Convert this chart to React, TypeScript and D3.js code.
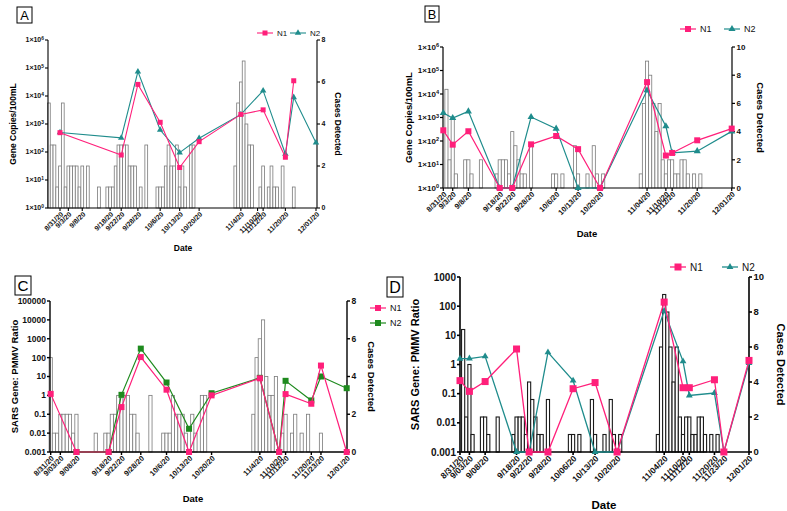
import React from 'react';
import * as d3 from 'd3';

const FONT = '"Liberation Sans", Arial, Helvetica, sans-serif';
const PINK = '#ff1f7a';
const TEAL = '#1f8c8c';
const GREEN = '#1e8a1e';

// ---- panel A : gene copies, site 1 ----
const A_DATES = ['2020-08-31', '2020-09-22', '2020-09-28', '2020-10-06', '2020-10-13', '2020-10-20', '2020-11-04', '2020-11-12', '2020-11-20', '2020-11-23', '2020-12-01'];
const A_N1 = [490, 78, 26000, 1150, 28, 234, 2200, 3200, 65, 35000, null];
const A_N2 = [500, 320, 74000, 610, 95, 310, 2200, 15500, 85, 9000, 215];
const A_CASES_START = '2020-08-27';
const A_CASES = [
  5, 3, 3, 1, 2, 5, 1, 2, 2, 2, 2, 1, 2, 0, 2,
  0, 0, 0, 1, 0, 0, 1, 1, 1, 2,
  3, 3, 3, 3, 2, 2, 2, 0, 1, 0,
  3, 0, 0, 0, 1, 1, 1, 2, 3, 2,
  2, 3, 1, 2, 1, 0, 3, 3, 0, 0,
  0, 0, 0, 0, 0, 0, 0, 0, 0, 0, 0, 0,
  2, 5, 6, 7, 4, 3, 3, 0, 0, 1, 2, 0, 1, 2, 1, 1, 0, 2, 0, 0, 0, 1,
  0, 0, 0, 0, 0, 0, 0,
];
const A_XLABELS = ['8/31/20', '9/3/20', '9/8/20', '9/18/20', '9/22/20', '9/28/20', '10/6/20', '10/13/20', '10/20/20', '11/4/20', '11/10/20', '11/12/20', '11/20/20', '12/01/20'];

// ---- panel B : gene copies, site 2 ----
const B_DATES = ['2020-08-31', '2020-09-03', '2020-09-08', '2020-09-18', '2020-09-22', '2020-09-28', '2020-10-06', '2020-10-13', '2020-10-20', '2020-11-04', '2020-11-10', '2020-11-12', '2020-11-20', '2020-12-01'];
const B_N1 = [285, 70, 260, 0, 0, 72, 163, 45, 0, 32000, 24, 31, 107, 337];
const B_N2 = [1550, 950, 1830, 0, 0, 1050, 335, 0, 0, 14400, 423, 31, 37, 257];
const B_XLABELS = ['8/31/20', '9/3/20', '9/8/20', '9/18/20', '9/22/20', '9/28/20', '10/6/20', '10/13/20', '10/20/20', '11/04/20', '11/10/20', '11/12/20', '11/20/20', '12/01/20'];

// cases at site 2 (panels B and D)
const SITE2_CASES_START = '2020-08-31';
const SITE2_CASES = [
  0, 7, 2, 5, 1, 0, 0, 2, 2, 1,
  0, 0, 2, 0, 0, 0, 0, 1, 2, 2,
  2, 1, 4, 3, 2, 1, 1, 0, 3, 0,
  0, 0, 0, 0, 0, 1, 1, 0, 1, 0,
  0, 0, 3, 1, 0, 0, 1, 0, 3, 1,
  0, 1, 0, 0, 0, 0, 0, 0, 0, 0, 0, 0, 0,
  1, 6, 9, 8, 6, 4, 6, 2, 1, 2, 2, 1, 1, 2, 2, 1, 0, 1, 0, 1,
  0, 0, 0, 0, 0, 0, 0, 0, 0,
];

// ---- panel C : PMMV ratio, site 1 ----
const C_DATES = ['2020-08-31', '2020-09-08', '2020-09-18', '2020-09-22', '2020-09-28', '2020-10-06', '2020-10-13', '2020-10-20', '2020-11-04', '2020-11-10', '2020-11-12', '2020-11-20', '2020-11-23', '2020-12-01'];
const C_N1 = [1.2, 0, 0, 0.24, 107, 2, 0, 1.0, 8, 0, 1.17, 0.36, 38, 0];
const C_N2 = [null, 0, 0, 1.07, 300, 4.8, 0.017, 1.3, 8.5, 0, 5.9, 0.54, 10, 2.4];
const C_CASES_START = '2020-08-31';
const C_CASES = [
  5, 1, 1, 2, 2, 2, 2, 1, 2, 0,
  0, 0, 0, 0, 1, 0, 0, 1, 1, 2,
  2, 3, 3, 3, 3, 2, 2, 1, 0, 0,
  0, 3, 0, 0, 0, 1, 1, 1, 3, 2,
  2, 2, 1, 0, 2, 1, 0, 3, 3,
  0, 0, 0, 0, 0, 0, 0, 0, 0, 0, 0, 0, 0, 0,
  2, 5, 6, 7, 4, 3, 3, 4, 0, 1, 2, 0, 1, 2, 0, 1, 0, 2, 0, 0, 0, 1,
  0, 0, 0, 0, 0, 0, 0,
];
const C_XLABELS = ['8/31/20', '9/03/20', '9/08/20', '9/18/20', '9/22/20', '9/28/20', '10/6/20', '10/13/20', '10/20/20', '11/4/20', '11/10/20', '11/12/20', '11/20/20', '11/23/20', '12/01/20'];

// ---- panel D : PMMV ratio, site 2 ----
const D_DATES = ['2020-08-31', '2020-09-03', '2020-09-08', '2020-09-18', '2020-09-22', '2020-09-28', '2020-10-06', '2020-10-13', '2020-10-20', '2020-11-04', '2020-11-10', '2020-11-12', '2020-11-20', '2020-11-23', '2020-12-01'];
const D_N1 = [0.28, 0.12, 0.26, 3.4, 0, 0, 0.148, 0.24, 0, 138, 0.16, 0.16, 0.3, 0, 1.38];
const D_N2 = [1.58, 1.6, 1.9, 0, 0, 2.6, 0.28, 0, 0, 69, 1.28, 0.087, 0.105, 0, 1.12];
const D_XLABELS = ['8/31/20', '9/03/20', '9/08/20', '9/18/20', '9/22/20', '9/28/20', '10/06/20', '10/13/20', '10/20/20', '11/04/20', '11/10/20', '11/12/20', '11/20/20', '11/23/20', '12/01/20'];

const COPIES_TICKS = [1, 10, 100, 1000, 10000, 100000, 1000000];
const RATIO_TICKS_C = [0.001, 0.01, 0.1, 1, 10, 100, 1000, 10000, 100000];
const RATIO_TICKS_D = [0.001, 0.01, 0.1, 1, 10, 100, 1000];
const CASE_TICKS_8 = [0, 2, 4, 6, 8];
const CASE_TICKS_10 = [0, 2, 4, 6, 8, 10];

const parse = d3.timeParse('%Y-%m-%d');
const parseLabel = (s: string) => {
  const [m, d, y] = s.split('/').map(Number);
  return new Date(2000 + y, m - 1, d);
};

type Cfg = {
  id: string;
  box: [number, number, number, number];
  axL: number; axR: number; top: number; bottom: number;
  xStart: number; xEnd: number;
  yTicks: number[]; sci: boolean;
  caseTicks: number[];
  dates: string[]; n1: (number | null)[]; n2: (number | null)[];
  n2Color: string; n2Shape: 'tri' | 'sq';
  casesStart: string; cases: number[];
  xLabels: string[];
  yTitle: string;
  fs: { ytick: number; xtick: number; rtick: number; title: number; legend: number; date: number };
  titleX: [number, number];
  dateXY: [number, number];
  legend: { x: number; y: number; dx: number; dy: number };
  barStroke: string; barW: number;
  lw: number; sq: number; tri: number; axW: number;
};

const PANELS: Cfg[] = [
  {
    id: 'A', box: [17, 7, 15, 16],
    axL: 48, axR: 317, top: 40, bottom: 208, xStart: 60, xEnd: 316,
    yTicks: COPIES_TICKS, sci: true, caseTicks: CASE_TICKS_8,
    dates: A_DATES, n1: A_N1, n2: A_N2, n2Color: TEAL, n2Shape: 'tri',
    casesStart: A_CASES_START, cases: A_CASES, xLabels: A_XLABELS,
    yTitle: 'Gene Copies/100mL',
    fs: { ytick: 7, xtick: 7, rtick: 7, title: 8.5, legend: 8, date: 8.5 },
    titleX: [13, 338], dateXY: [183, 251],
    legend: { x: 265, y: 33, dx: 33, dy: 0 },
    barStroke: '#7a7a7a', barW: 0.8, lw: 1.1, sq: 5, tri: 18, axW: 1.1,
  },
  {
    id: 'B', box: [425, 6, 14, 16],
    axL: 443, axR: 732, top: 47, bottom: 188, xStart: 443.3, xEnd: 731.7,
    yTicks: COPIES_TICKS, sci: true, caseTicks: CASE_TICKS_10,
    dates: B_DATES, n1: B_N1, n2: B_N2, n2Color: TEAL, n2Shape: 'tri',
    casesStart: SITE2_CASES_START, cases: SITE2_CASES, xLabels: B_XLABELS,
    yTitle: 'Gene Copies/100mL',
    fs: { ytick: 8, xtick: 7.5, rtick: 8, title: 9.5, legend: 9, date: 9.5 },
    titleX: [408, 760], dateXY: [587, 237],
    legend: { x: 688, y: 29, dx: 44, dy: 0 },
    barStroke: '#7a7a7a', barW: 0.8, lw: 1.2, sq: 6, tri: 22, axW: 1.2,
  },
  {
    id: 'C', box: [15, 276, 16, 19],
    axL: 50, axR: 347, top: 301, bottom: 452, xStart: 50.7, xEnd: 346.7,
    yTicks: RATIO_TICKS_C, sci: false, caseTicks: CASE_TICKS_8,
    dates: C_DATES, n1: C_N1, n2: C_N2, n2Color: GREEN, n2Shape: 'sq',
    casesStart: C_CASES_START, cases: C_CASES, xLabels: C_XLABELS,
    yTitle: 'SARS Gene: PMMV Ratio',
    fs: { ytick: 8.5, xtick: 7.5, rtick: 8.5, title: 9.5, legend: 9, date: 9.5 },
    titleX: [14, 371], dateXY: [193, 502],
    legend: { x: 378, y: 308, dx: 0, dy: 15 },
    barStroke: '#7a7a7a', barW: 0.8, lw: 1.2, sq: 6, tri: 20, axW: 1.4,
  },
  {
    id: 'D', box: [387, 277, 16, 20],
    axL: 460, axR: 749, top: 277, bottom: 452, xStart: 460, xEnd: 749,
    yTicks: RATIO_TICKS_D, sci: false, caseTicks: CASE_TICKS_10,
    dates: D_DATES, n1: D_N1, n2: D_N2, n2Color: TEAL, n2Shape: 'tri',
    casesStart: SITE2_CASES_START, cases: SITE2_CASES, xLabels: D_XLABELS,
    yTitle: 'SARS Gene: PMMV Ratio',
    fs: { ytick: 10, xtick: 8.5, rtick: 9.5, title: 11, legend: 10, date: 11.5 },
    titleX: [415, 781], dateXY: [604, 509],
    legend: { x: 678, y: 267, dx: 52, dy: 0 },
    barStroke: '#1a1a1a', barW: 1.1, lw: 1.3, sq: 7, tri: 20, axW: 1.6,
  },
];

const Marker: React.FC<{ x: number; y: number; shape: 'tri' | 'sq'; color: string; sq: number; tri: number }> = ({ x, y, shape, color, sq, tri }) =>
  shape === 'sq'
    ? <rect x={x - sq / 2} y={y - sq / 2} width={sq} height={sq} fill={color} />
    : <path d={d3.symbol(d3.symbolTriangle, tri)()!} transform={`translate(${x},${y})`} fill={color} />;

const Panel: React.FC<{ c: Cfg }> = ({ c }) => {
  const x = d3.scaleTime()
    .domain([parse('2020-08-31')!, parse('2020-12-01')!])
    .range([c.xStart, c.xEnd]);
  const yL = d3.scaleLog()
    .domain([c.yTicks[0], c.yTicks[c.yTicks.length - 1]])
    .range([c.bottom, c.top])
    .clamp(true);
  const yR = d3.scaleLinear()
    .domain([0, c.caseTicks[c.caseTicks.length - 1]])
    .range([c.bottom, c.top]);

  const start = parse(c.casesStart)!;
  const bars = c.cases.map((v, i) => {
    const d = d3.timeDay.offset(start, i);
    const x0 = x(d3.timeHour.offset(d, -12));
    const x1 = x(d3.timeHour.offset(d, 12));
    return { x0, x1, v };
  }).filter(b => b.v > 0);

  const series = (vals: (number | null)[]) =>
    c.dates.map((d, i) => ({ d: parse(d)!, v: vals[i] }))
      .filter(p => p.v !== null)
      .map(p => ({ x: x(p.d), y: yL(Math.max(p.v as number, c.yTicks[0])) }));

  const s1 = series(c.n1);
  const s2 = series(c.n2);
  const line = d3.line<{ x: number; y: number }>().x(p => p.x).y(p => p.y);

  const legendItems = [
    { label: 'N1', color: PINK, shape: 'sq' as const },
    { label: 'N2', color: c.n2Color, shape: c.n2Shape },
  ];

  return (
    <g fontFamily={FONT}>
      {/* panel letter */}
      <rect x={c.box[0]} y={c.box[1]} width={c.box[2]} height={c.box[3]} fill="none" stroke="#000" strokeWidth={1} />
      <text x={c.box[0] + c.box[2] / 2} y={c.box[1] + c.box[3] / 2} textAnchor="middle" dominantBaseline="central" fontSize={c.box[3] * 0.8}>{c.id}</text>

      {/* case bars */}
      {bars.map((b, i) => (
        <rect key={i} x={b.x0} y={yR(b.v)} width={b.x1 - b.x0} height={c.bottom - yR(b.v)}
          fill="#fff" stroke={c.barStroke} strokeWidth={c.barW} />
      ))}

      {/* axes */}
      <line x1={c.axL} x2={c.axL} y1={c.top} y2={c.bottom} stroke="#000" strokeWidth={c.axW} />
      <line x1={c.axR} x2={c.axR} y1={c.top} y2={c.bottom} stroke="#000" strokeWidth={c.axW} />
      <line x1={c.axL} x2={c.axR} y1={c.bottom} y2={c.bottom} stroke="#000" strokeWidth={c.axW} />

      {c.yTicks.map(t => (
        <g key={t}>
          <line x1={c.axL - 3} x2={c.axL} y1={yL(t)} y2={yL(t)} stroke="#000" strokeWidth={c.axW} />
          <text x={c.axL - 4} y={yL(t)} dy="0.35em" textAnchor="end" fontSize={c.fs.ytick} fontWeight="bold" fill="#111">
            {c.sci
              ? <>1×10<tspan dy="-0.45em" fontSize={c.fs.ytick * 0.7}>{Math.round(Math.log10(t))}</tspan></>
              : String(t)}
          </text>
        </g>
      ))}

      {c.caseTicks.map(t => (
        <g key={t}>
          <line x1={c.axR} x2={c.axR + 3} y1={yR(t)} y2={yR(t)} stroke="#000" strokeWidth={c.axW} />
          <text x={c.axR + 4.5} y={yR(t)} dy="0.35em" fontSize={c.fs.rtick} fontWeight="bold" fill="#111">{t}</text>
        </g>
      ))}

      {c.xLabels.map(l => {
        const px = x(parseLabel(l));
        return (
          <g key={l}>
            <line x1={px} x2={px} y1={c.bottom} y2={c.bottom + 3} stroke="#000" strokeWidth={c.axW} />
            <text transform={`translate(${px + 2},${c.bottom + 5}) rotate(-45)`} textAnchor="end" dy="0.35em"
              fontSize={c.fs.xtick} fontWeight="bold" fill="#111">{l}</text>
          </g>
        );
      })}

      {/* titles */}
      <text transform={`translate(${c.titleX[0]},${(c.top + c.bottom) / 2}) rotate(-90)`} textAnchor="middle" dominantBaseline="central"
        fontSize={c.fs.title} fontWeight="bold">{c.yTitle}</text>
      <text transform={`translate(${c.titleX[1]},${(c.top + c.bottom) / 2}) rotate(90)`} textAnchor="middle" dominantBaseline="central"
        fontSize={c.fs.title} fontWeight="bold">Cases Detected</text>
      <text x={c.dateXY[0]} y={c.dateXY[1]} textAnchor="middle" fontSize={c.fs.date} fontWeight="bold">Date</text>

      {/* series */}
      <path d={line(s2)!} fill="none" stroke={c.n2Color} strokeWidth={c.lw} />
      {s2.map((p, i) => <Marker key={i} x={p.x} y={p.y} shape={c.n2Shape} color={c.n2Color} sq={c.sq} tri={c.tri} />)}
      <path d={line(s1)!} fill="none" stroke={PINK} strokeWidth={c.lw} />
      {s1.map((p, i) => <Marker key={i} x={p.x} y={p.y} shape="sq" color={PINK} sq={c.sq} tri={c.tri} />)}

      {/* legend */}
      {legendItems.map((it, i) => {
        const lx = c.legend.x + i * c.legend.dx;
        const ly = c.legend.y + i * c.legend.dy;
        return (
          <g key={it.label}>
            <line x1={lx - 8} x2={lx + 8} y1={ly} y2={ly} stroke={it.color} strokeWidth={c.lw} />
            <Marker x={lx} y={ly} shape={it.shape} color={it.color} sq={c.sq} tri={c.tri} />
            <text x={lx + 12} y={ly} dy="0.35em" fontSize={c.fs.legend} fill="#111">{it.label}</text>
          </g>
        );
      })}
    </g>
  );
};

export default function App() {
  return (
    <svg width={787} height={511} style={{ position: 'absolute', left: 0, top: 0, background: '#fff' }}>
      {PANELS.map(c => <Panel key={c.id} c={c} />)}
    </svg>
  );
}
